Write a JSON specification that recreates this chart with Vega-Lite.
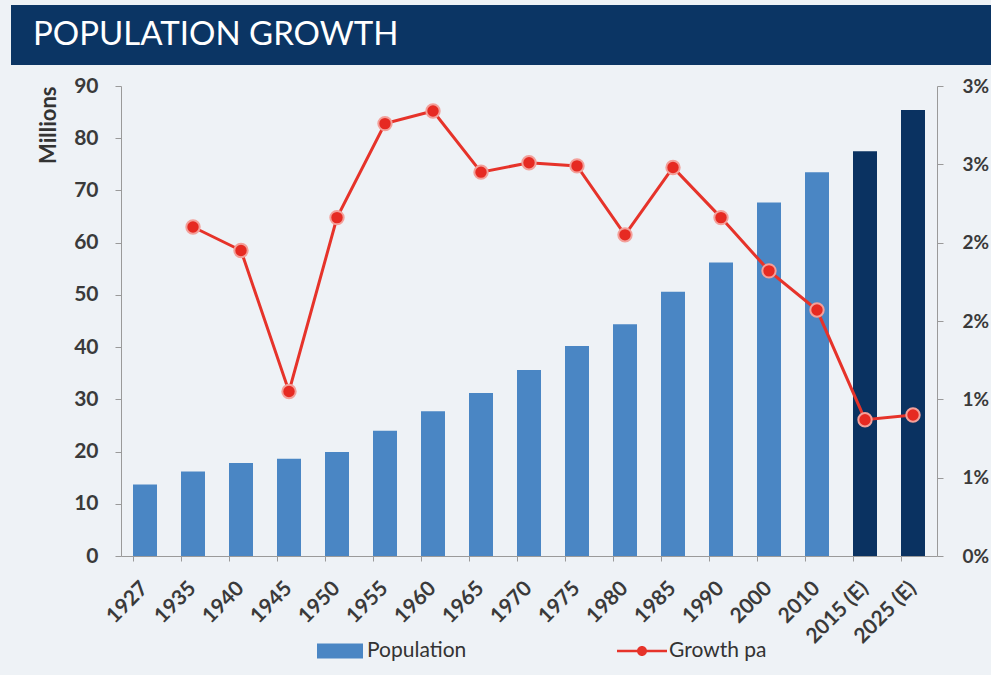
{
  "$schema": "https://vega.github.io/schema/vega-lite/v6.json",
  "background": "#eef2f6",
  "padding": {"left": 8, "top": 5, "right": 0, "bottom": 15},
  "config": {
    "view": {"stroke": null},
    "font": "Lato",
    "axis": {"labelFont": "Lato", "titleFont": "Lato"}
  },
  "columns": 1,
  "spacing": 10,
  "concat": [
    {
      "width": 983,
      "height": 60,
      "view": {"fill": "#0b3564", "stroke": null},
      "data": {"values": [{"label": "POPULATION GROWTH"}]},
      "mark": {"type": "text", "x": 22, "y": 40, "align": "left", "baseline": "alphabetic", "font": "Lato", "fontSize": 33, "color": "#ffffff"},
      "encoding": {"text": {"field": "label", "type": "nominal"}}
    },
    {
      "spacing": 22,
      "hconcat": [
        {
          "width": 1,
          "height": 470,
          "data": {"values": [{}]},
          "mark": {"type": "point", "opacity": 0}
        },
        {
          "width": 816,
          "height": 470,
          "data": {"values": [
            {"year": "1927", "pop": 13.7, "growth": null, "est": false},
            {"year": "1935", "pop": 16.2, "growth": 2.10, "est": false},
            {"year": "1940", "pop": 17.8, "growth": 1.95, "est": false},
            {"year": "1945", "pop": 18.6, "growth": 1.05, "est": false},
            {"year": "1950", "pop": 19.9, "growth": 2.16, "est": false},
            {"year": "1955", "pop": 24.0, "growth": 2.76, "est": false},
            {"year": "1960", "pop": 27.7, "growth": 2.84, "est": false},
            {"year": "1965", "pop": 31.2, "growth": 2.45, "est": false},
            {"year": "1970", "pop": 35.6, "growth": 2.51, "est": false},
            {"year": "1975", "pop": 40.2, "growth": 2.49, "est": false},
            {"year": "1980", "pop": 44.4, "growth": 2.05, "est": false},
            {"year": "1985", "pop": 50.6, "growth": 2.48, "est": false},
            {"year": "1990", "pop": 56.2, "growth": 2.16, "est": false},
            {"year": "2000", "pop": 67.7, "growth": 1.82, "est": false},
            {"year": "2010", "pop": 73.5, "growth": 1.57, "est": false},
            {"year": "2015 (E)", "pop": 77.5, "growth": 0.87, "est": true},
            {"year": "2025 (E)", "pop": 85.4, "growth": 0.90, "est": true}
          ]},
          "encoding": {
            "x": {
              "field": "year", "type": "nominal", "sort": null,
              "scale": {"paddingInner": 0.5, "paddingOuter": 0.25},
              "axis": {
                "title": null, "labelAngle": -45, "labelFontSize": 21, "labelFontWeight": "bold", "labelColor": "#3a3a3a",
                "labelPadding": 24, "domainColor": "#9a9a9a", "tickColor": "#9a9a9a", "tickSize": 5, "bandPosition": 0,
                "labelAlign": "right", "labelBaseline": "middle"
              }
            }
          },
          "layer": [
            {
              "mark": {"type": "bar"},
              "encoding": {
                "y": {
                  "field": "pop", "type": "quantitative",
                  "scale": {"domain": [0, 90], "nice": false},
                  "axis": {
                    "orient": "left", "values": [0, 10, 20, 30, 40, 50, 60, 70, 80, 90], "grid": false,
                    "title": "Millions", "titleFontSize": 22, "titleFontWeight": "bold", "titleColor": "#333333",
                    "titleAnchor": "end", "titlePadding": 13,
                    "labelFontSize": 21, "labelFontWeight": "bold", "labelColor": "#3a3a3a", "labelPadding": 17,
                    "domainColor": "#9a9a9a", "tickColor": "#9a9a9a", "tickSize": 6
                  }
                },
                "color": {
                  "condition": {"test": "datum.est", "value": "#0a3261"},
                  "datum": "Population",
                  "scale": {"domain": ["Population", "Growth pa"], "range": ["#4a86c4", "#e6332a"]},
                  "legend": {
                    "orient": "none", "legendX": 304, "legendY": 621, "direction": "horizontal", "title": null,
                    "symbolSize": 2500, "labelFontSize": 21, "labelFont": "Lato", "labelColor": "#333333",
                    "labelOffset": 2, "columnPadding": 150,
                    "encode": {
                      "symbols": {"update": {
                        "shape": {"signal": "datum.value === 'Population' ? 'M-0.92,-0.3H0.92V0.3H-0.92Z' : 'M-1,-0.05H1V0.05H-1Z M0.2,0A0.2,0.2,0,1,1,-0.2,0A0.2,0.2,0,1,1,0.2,0Z'"},
                        "fill": {"signal": "datum.value === 'Population' ? '#4a86c4' : '#e6332a'"},
                        "strokeWidth": {"value": 0},
                        "opacity": {"value": 1},
                        "fillOpacity": {"value": 1}
                      }}
                    }
                  }
                }
              }
            },
            {
              "mark": {"type": "line", "strokeWidth": 3, "point": {"filled": true, "size": 180, "fill": "#e62a22", "stroke": "#f3a09a", "strokeWidth": 2, "opacity": 1}},
              "encoding": {
                "y": {
                  "field": "growth", "type": "quantitative",
                  "scale": {"domain": [0, 3], "nice": false},
                  "axis": {
                    "orient": "right", "values": [0, 0.5, 1, 1.5, 2, 2.5, 3], "grid": false, "title": null,
                    "labelExpr": "round(datum.value) + '%'",
                    "labelFontSize": 19, "labelFontWeight": "bold", "labelColor": "#3a3a3a", "labelPadding": 19,
                    "domainColor": "#9a9a9a", "tickColor": "#9a9a9a", "tickSize": 6
                  }
                },
                "color": {"datum": "Growth pa"}
              }
            }
          ],
          "resolve": {"scale": {"y": "independent"}}
        }
      ]
    }
  ]
}
